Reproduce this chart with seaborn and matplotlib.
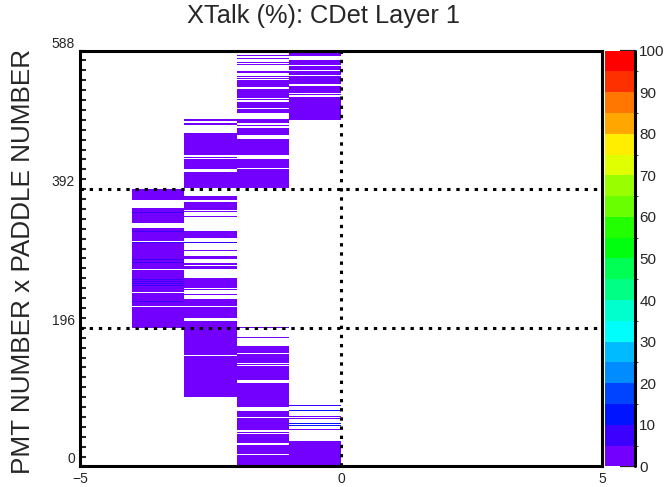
import colorsys

import matplotlib
matplotlib.use('Agg')
import matplotlib.pyplot as plt
import numpy as np
import pandas as pd
import seaborn as sns
from matplotlib.colors import BoundaryNorm, ListedColormap

TITLE = 'XTalk (%): CDet Layer 1'
Y_LABEL = 'PMT NUMBER x PADDLE NUMBER'

# histogram binning
X_EDGES = [-5, -4, -3, -2, -1, 0, 1, 2, 3, 4, 5]
N_ROWS = 588
X_TICKS = [-5, 0, 5]
Y_TICKS = [0, 196, 392, 588]
Y_MINOR_STEP = 14
Z_LEVELS = list(range(0, 105, 5))
Z_TICKS = list(range(0, 110, 10))

# ROOT style rainbow palette hues for the 20 contours (violet -> red)
PALETTE_HUES = [267.0, 254.0, 235.2, 224.0, 207.2, 196.0, 179.2, 168.0, 151.2, 140.0,
                123.2, 112.0, 95.2, 84.0, 67.2, 56.0, 39.2, 28.0, 11.2, 0.0]

# crosstalk of a normal filled row (all in the lowest colour band)
BASE_XTALK = 2.5

# filled row ranges (lo, hi) per x bin, hi exclusive
RUNS_M35 = [(196, 226), (227, 245), (246, 278), (279, 304), (305, 318), (319, 337),
            (344, 345), (346, 366), (377, 392)]
RUNS_M25 = [(98, 112), (113, 136), (137, 156), (157, 205), (210, 225), (227, 237),
            (243, 244), (246, 247), (249, 251), (252, 266), (279, 280), (281, 283),
            (285, 288), (290, 291), (293, 297), (305, 306), (316, 317), (323, 333),
            (338, 339), (345, 346), (348, 349), (353, 354), (360, 361), (363, 369),
            (370, 374), (377, 383), (394, 416), (420, 435), (436, 437), (441, 471),
            (482, 486), (489, 491)]
RUNS_M15 = [(0, 16), (17, 31), (33, 46), (48, 49), (52, 64), (65, 69), (70, 78),
            (84, 99), (100, 118), (122, 142), (144, 145), (146, 159), (160, 171),
            (182, 183), (196, 197), (394, 421), (422, 435), (437, 438), (441, 463),
            (469, 478), (481, 482), (486, 491), (495, 496), (500, 506), (507, 515),
            (518, 519), (521, 534), (537, 546), (548, 549), (551, 552), (556, 559),
            (568, 569), (571, 572), (576, 577), (580, 581), (584, 588)]
RUNS_M05 = [(0, 36), (44, 45), (47, 48), (52, 53), (57, 58), (60, 61), (67, 68),
            (70, 71), (79, 80), (86, 87), (95, 96), (490, 502), (503, 516),
            (517, 522), (525, 526), (528, 529), (530, 538), (540, 552), (554, 559),
            (560, 566), (567, 575), (580, 581), (582, 588)]

# rows with a higher crosstalk (row, value)
HOT_M35 = [(233, 7.0), (252, 6.5), (255, 7.0), (258, 6.5), (261, 7.0), (264, 6.0),
           (283, 7.0), (288, 6.5), (292, 7.0), (311, 6.5), (316, 7.0), (332, 6.5),
           (359, 8.0)]
HOT_M25 = [(316, 7.0)]
HOT_M15 = []
HOT_M05 = [(57, 12.0), (60, 12.0), (79, 11.0), (86, 8.0)]


def build_grid():
    x_centers = [(a + b) / 2 for a, b in zip(X_EDGES[:-1], X_EDGES[1:])]
    grid = pd.DataFrame(np.nan, index=np.arange(N_ROWS), columns=x_centers)
    columns = [(-3.5, RUNS_M35, HOT_M35), (-2.5, RUNS_M25, HOT_M25),
               (-1.5, RUNS_M15, HOT_M15), (-0.5, RUNS_M05, HOT_M05)]
    for xc, runs, hot in columns:
        for lo, hi in runs:
            grid.loc[lo:hi - 1, xc] = BASE_XTALK
        for row, val in hot:
            grid.loc[row, xc] = val
    return grid


def main():
    sns.set_style('white')
    plt.rcParams['font.family'] = ['Liberation Sans', 'DejaVu Sans']

    grid = build_grid()
    colors = [colorsys.hls_to_rgb(h / 360.0, 0.5, 1.0) for h in PALETTE_HUES]
    cmap = ListedColormap(colors)
    norm = BoundaryNorm(Z_LEVELS, cmap.N)

    fig = plt.figure(figsize=(6.72, 4.87), dpi=100)
    ax = fig.add_axes([0.1190, 0.0421, 0.7768, 0.8542])
    cax = fig.add_axes([0.9003, 0.0421, 0.0446, 0.8542])

    sns.heatmap(grid, ax=ax, cbar_ax=cax, cmap=cmap, norm=norm,
                xticklabels=False, yticklabels=False)

    x0 = X_EDGES[0]
    ax.set_xlim(0, len(X_EDGES) - 1)
    ax.set_ylim(0, N_ROWS)

    # dotted guide lines
    dots = (0, (1.1, 1.9))
    for yv in Y_TICKS[1:-1]:
        ax.axhline(yv, color='black', lw=2.2, linestyle=dots, zorder=5)
    ax.axvline(0 - x0, color='black', lw=2.2, linestyle=dots, zorder=5)

    for s in ax.spines.values():
        s.set_visible(True)
        s.set_color('black')
        s.set_linewidth(2.2)

    ax.set_xticks([v - x0 for v in X_TICKS])
    ax.set_xticklabels([str(v).replace('-', '\u2212') for v in X_TICKS], fontsize=10)
    ax.set_yticks(Y_TICKS)
    ax.set_yticklabels([str(v) for v in Y_TICKS], fontsize=10, va='bottom', rotation=0)
    ax.set_yticks(range(0, N_ROWS + 1, Y_MINOR_STEP), minor=True)
    ax.tick_params(axis='x', which='both', length=0, pad=4)
    ax.tick_params(axis='y', which='both', direction='in', length=4.5, width=1.5,
                   left=True, pad=3.5)

    ax.set_ylabel(Y_LABEL, fontsize=18.8)
    ax.yaxis.set_label_coords(-0.086, 0.493)
    fig.text(323.5 / 672, 1 - 15.5 / 487, TITLE, ha='center', va='center', fontsize=18.3)

    cbar = ax.collections[0].colorbar
    cbar.outline.set_visible(False)
    cbar.set_ticks(Z_TICKS)
    cbar.ax.tick_params(direction='in', length=11, width=1.6, right=True,
                        labelsize=11, pad=3)
    cax.plot([1, 1], [0, 1], transform=cax.transAxes, color='black', lw=2.2,
             clip_on=False)

    plt.savefig('out.png', dpi=100)


if __name__ == '__main__':
    main()
